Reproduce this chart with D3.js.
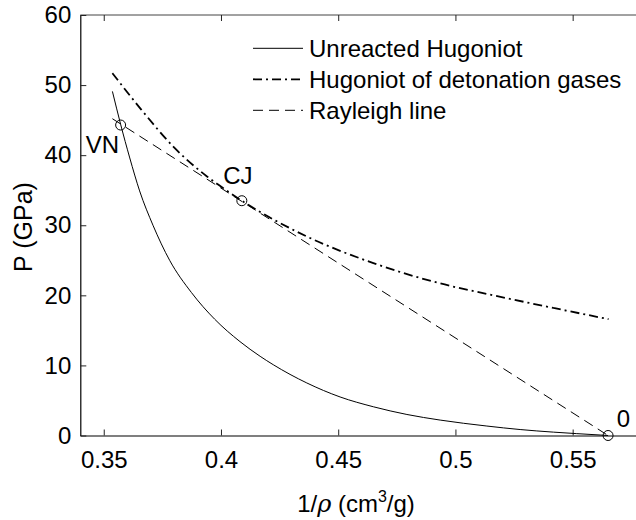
<!DOCTYPE html>
<html>

<head>
    <title>Hugoniot</title>
    <script src="https://cdn.jsdelivr.net/npm/d3@7"></script>
    <style>
        body { margin: 0; background: #fff; }
        text { font-family: 'Liberation Sans', Arial, Helvetica, sans-serif; }
    </style>
</head>

<body>
    <svg width="636" height="520" id="mainsvg"></svg>
    <script>
        // values
        const unreactedV = [0.3537, 0.3572, 0.3611, 0.3653, 0.3710, 0.3781, 0.3874, 0.3973, 0.4081, 0.4167, 0.4223, 0.4366, 0.4508, 0.4650, 0.4793, 0.4935, 0.5134, 0.5276, 0.5418, 0.5617, 0.5651];
        const unreactedP = [49.1, 44.4, 39.6, 34.9, 30.0, 25.0, 20.4, 16.6, 13.4, 11.3, 10.1, 7.5, 5.5, 4.1, 3.0, 2.2, 1.35, 0.85, 0.48, 0.07, 0];
        const gasesV = [0.3537, 0.3660, 0.3803, 0.3939, 0.3988, 0.4089, 0.4366, 0.4650, 0.4935, 0.5134, 0.5418, 0.5653];
        const gasesP = [51.7, 46.5, 41.0, 37.0, 35.8, 33.5, 28.4, 24.6, 21.7, 20.2, 18.2, 16.6];
        const rayleighV = [0.3537, 0.5651];
        const rayleighP = [45.2, 0];
        const pointLabels = ['VN', 'CJ', '0'];
        const pointV = [0.3572, 0.4089, 0.5651];
        const pointP = [44.3, 33.5, 0];
        const xTicks = [0.35, 0.4, 0.45, 0.5, 0.55];
        const yTicks = [0, 10, 20, 30, 40, 50, 60];
        const seriesNames = ['Unreacted Hugoniot', 'Hugoniot of detonation gases', 'Rayleigh line'];

        const svg = d3.select('svg');
        const x = d3.scaleLinear().domain([0.34, 0.58]).range([80.3, 643]);
        const y = d3.scaleLinear().domain([0, 60]).range([435.5, 15]);
        const fs = 24;

        const line = d3.line().x(d => x(d[0])).y(d => y(d[1])).curve(d3.curveMonotoneX);
        const styles = [
            { width: 1, dash: null },
            { width: 1.8, dash: '9,4,2,4' },
            { width: 1, dash: '10,6' }
        ];
        const series = [
            d3.zip(unreactedV, unreactedP),
            d3.zip(gasesV, gasesP),
            d3.zip(rayleighV, rayleighP)
        ];

        // frame
        svg.append('line').attr('x1', x.range()[0]).attr('x2', x.range()[1])
            .attr('y1', y(60)).attr('y2', y(60)).attr('stroke', '#444').attr('stroke-width', 1);

        svg.append('g').attr('transform', `translate(0,${y(0)})`)
            .call(d3.axisBottom(x).tickValues(xTicks).tickFormat(d3.format('')).tickSizeInner(-6).tickSizeOuter(0).tickPadding(15));
        svg.append('g').attr('transform', `translate(0,${y(60)})`)
            .call(d3.axisTop(x).tickValues(xTicks).tickFormat('').tickSizeInner(-6).tickSizeOuter(0))
            .select('.domain').remove();
        svg.append('g').attr('transform', `translate(${x(0.34)},0)`)
            .call(d3.axisLeft(y).tickValues(yTicks).tickSizeInner(-6).tickSizeOuter(0).tickPadding(9));

        svg.selectAll('.tick line').attr('stroke', '#222');
        svg.selectAll('.domain').attr('stroke', '#000').attr('stroke-width', 1.2);
        svg.selectAll('.tick text').attr('font-size', fs)
            .attr('font-family', "'Liberation Sans', Arial, sans-serif").attr('fill', '#000');

        // curves
        svg.append('g').selectAll('path').data(series).join('path')
            .attr('d', line)
            .attr('fill', 'none')
            .attr('stroke', '#000')
            .attr('stroke-width', (d, i) => styles[i].width)
            .attr('stroke-dasharray', (d, i) => styles[i].dash);

        // marked states
        const pts = d3.zip(pointV, pointP, pointLabels);
        svg.append('g').selectAll('circle').data(pts).join('circle')
            .attr('cx', d => x(d[0])).attr('cy', d => y(d[1])).attr('r', 5)
            .attr('fill', 'none').attr('stroke', '#000').attr('stroke-width', 1);
        const labelOffsets = [[-1.5, 28, 'end'], [-18.7, -17, 'start'], [8.7, -9, 'start']];
        svg.append('g').selectAll('text').data(pts).join('text')
            .attr('x', (d, i) => x(d[0]) + labelOffsets[i][0])
            .attr('y', (d, i) => y(d[1]) + labelOffsets[i][1])
            .attr('text-anchor', (d, i) => labelOffsets[i][2])
            .attr('font-size', fs)
            .text(d => d[2]);

        // legend
        const legend = svg.append('g').attr('transform', 'translate(253,48.3)');
        const rows = legend.selectAll('g').data(seriesNames).join('g')
            .attr('transform', (d, i) => `translate(0,${i * 31})`);
        rows.append('line').attr('x1', 0).attr('x2', 50)
            .attr('stroke', '#000')
            .attr('stroke-width', (d, i) => styles[i].width)
            .attr('stroke-dasharray', (d, i) => styles[i].dash);
        rows.append('text').attr('x', 56).attr('y', 9)
            .attr('font-size', fs)
            .text(d => d);

        // axis titles
        const xt = svg.append('text').attr('x', 356).attr('y', 512).attr('text-anchor', 'middle')
            .attr('font-size', fs);
        xt.append('tspan').text('1/');
        xt.append('tspan').attr('font-family', "'DejaVu Serif', 'Liberation Serif', serif").attr('font-style', 'italic').text('ρ');
        xt.append('tspan').text(' (cm');
        xt.append('tspan').attr('dy', -10).attr('font-size', 16).text('3');
        xt.append('tspan').attr('dy', 10).text('/g)');

        svg.append('text').attr('transform', 'translate(32,227) rotate(-90)')
            .attr('text-anchor', 'middle').attr('font-size', 25)
            .text('P (GPa)');
    </script>
</body>

</html>
